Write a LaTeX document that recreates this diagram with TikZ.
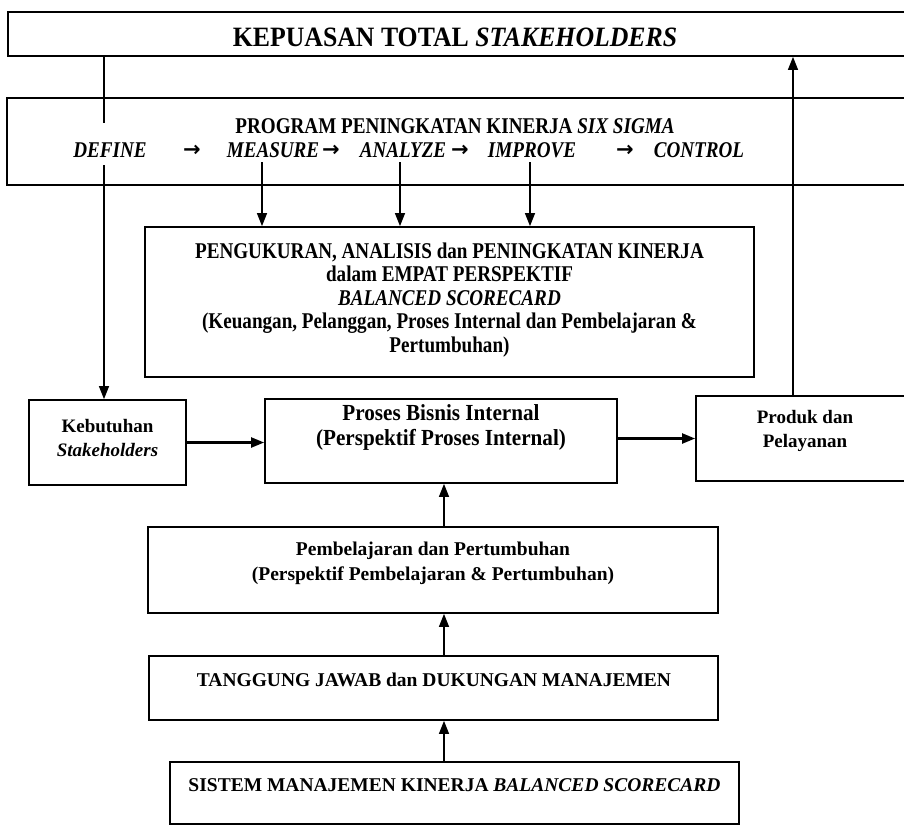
\documentclass[tikz,border=0pt]{standalone}
\usepackage{fontspec}
\setmainfont{Liberation Serif}
\newfontfamily\fA[FakeStretch=0.92]{Liberation Serif}
\newfontfamily\fB[FakeStretch=0.85]{Liberation Serif}
\newfontfamily\fC{Liberation Serif}
\newfontfamily\fD{DejaVu Sans}
\usetikzlibrary{arrows.meta}
\begin{document}
\begin{tikzpicture}[x=1pt,y=-1pt,
  box/.style={draw, line width=1.8pt, rectangle, inner sep=0pt},
  conn/.style={line width=1.3pt},
  arr/.style={conn, -{Triangle[length=13pt,width=10pt]}},
  thickarr/.style={arr, line width=2.2pt},
  lbl/.style={inner sep=0pt, align=center},
  word/.style={lbl, anchor=base, text height=15pt, text depth=0pt,
    font={\fB\bfseries\itshape\fontsize{22.5}{25}\selectfont}},
  sym/.style={lbl, anchor=base, font={\fD\bfseries\fontsize{21}{22}\selectfont}},
  upper/.style={lbl, font={\fB\bfseries\fontsize{22.5}{23.5}\selectfont}},
  lower/.style={lbl, font={\fC\bfseries\fontsize{19.5}{25}\selectfont}},
]
\useasboundingbox (0,0) rectangle (904,827);
\fill[white] (0,0) rectangle (904,827);

% boxes
\node[box, minimum width=904pt, minimum height=44pt] (top) at (460,34) {};
\node[box, minimum width=905pt, minimum height=87pt] (six) at (459.5,141.5) {};
\node[box, minimum width=609pt, minimum height=150pt] (peng) at (449.5,302) {};
\node[box, minimum width=157pt, minimum height=85pt] (keb) at (107.5,442.5) {};
\node[box, minimum width=352pt, minimum height=84pt] (pros) at (441,441) {};
\node[box, minimum width=218pt, minimum height=85pt] (prod) at (805,438.5) {};
\node[box, minimum width=570pt, minimum height=86pt] (pemb) at (433,570) {};
\node[box, minimum width=569pt, minimum height=64pt] (tang) at (433.5,688) {};
\node[box, minimum width=569pt, minimum height=62pt] (sist) at (454.5,793) {};

% texts
\node[lbl, font={\fA\bfseries\fontsize{28}{30}\selectfont}] (ttl) at (455,37)
  {KEPUASAN TOTAL \textit{STAKEHOLDERS}};
\node[upper, anchor=base] (prog) at (455,133)
  {PROGRAM PENINGKATAN KINERJA \textit{SIX SIGMA}};
\node[word] (def) at (110,157) {DEFINE};
\node[sym] (s1) at (192,156) {→};
\node[word] (mea) at (273,157) {MEASURE};
\node[sym] (s2) at (331,156) {→};
\node[word] (ana) at (403,157) {ANALYZE};
\node[sym] (s3) at (460,156) {→};
\node[word] (imp) at (532,157) {IMPROVE};
\node[sym] (s4) at (625,156) {→};
\node[word] (con) at (699,157) {CONTROL};

\node[upper] (pengT) at (449.5,300)
  {PENGUKURAN, ANALISIS dan PENINGKATAN KINERJA\\
   dalam EMPAT PERSPEKTIF\\
   \textit{BALANCED SCORECARD}\\
   (Keuangan, Pelanggan, Proses Internal dan Pembelajaran \&\\
   Pertumbuhan)};
\node[lbl, font={\fC\bfseries\fontsize{19}{24}\selectfont}] (kebT) at (107.5,437.5)
  {Kebutuhan\\ \textit{Stakeholders}};
\node[lbl, font={\fA\bfseries\fontsize{23}{24.5}\selectfont}] (prosT) at (441,427.5)
  {Proses Bisnis Internal\\ (Perspektif Proses Internal)};
\node[lbl, font={\fC\bfseries\fontsize{19}{24.5}\selectfont}] (prodT) at (805,431)
  {Produk dan\\ Pelayanan};
\node[lower] (pembT) at (433,563.5)
  {Pembelajaran dan Pertumbuhan\\ (Perspektif Pembelajaran \& Pertumbuhan)};
\node[lower] (tangT) at (434,680)
  {TANGGUNG JAWAB dan DUKUNGAN MANAJEMEN};
\node[lower] (sistT) at (454.5,785)
  {SISTEM MANAJEMEN KINERJA \textit{BALANCED SCORECARD}};

% connectors
\draw[conn] ([xshift=-6pt]def.north |- top.south) -- ([xshift=-6pt,yshift=19pt]def.north);
\draw[arr] ([xshift=-6pt,yshift=-8pt]def.south) -- ([xshift=-6pt]def.south |- keb.north);
\draw[arr] ([xshift=-11pt,yshift=-5pt]mea.south) -- ([xshift=-11pt]mea.south |- peng.north);
\draw[arr] ([xshift=-3pt,yshift=-5pt]ana.south) -- ([xshift=-3pt]ana.south |- peng.north);
\draw[arr] ([xshift=-2pt,yshift=-5pt]imp.south) -- ([xshift=-2pt]imp.south |- peng.north);
\draw[thickarr] (keb.east) -- (keb.east -| pros.west);
\draw[thickarr] (pros.east |- prod.west) -- (prod.west);
\draw[arr] ([xshift=-12pt]prod.north) -- ([xshift=-12pt]prod.north |- top.south);
\draw[arr] ([xshift=11pt]pemb.north) -- ([xshift=11pt]pemb.north |- pros.south);
\draw[arr] ([xshift=10.5pt]tang.north) -- ([xshift=10.5pt]tang.north |- pemb.south);
\draw[arr] ([xshift=-10.5pt]sist.north) -- ([xshift=-10.5pt]sist.north |- tang.south);
\end{tikzpicture}
\end{document}
